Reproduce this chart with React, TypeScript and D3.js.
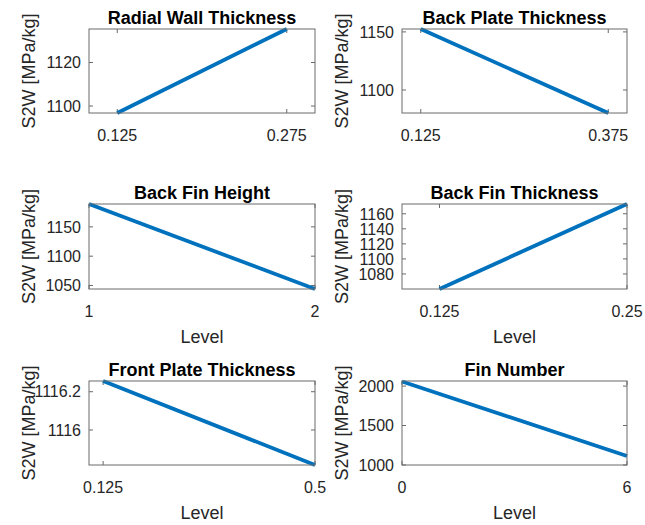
import React from 'react';
import * as d3 from 'd3';

// panel data
const titles = [
  'Radial Wall Thickness',
  'Back Plate Thickness',
  'Back Fin Height',
  'Back Fin Thickness',
  'Front Plate Thickness',
  'Fin Number',
];
const levels = [
  [0.125, 0.275],
  [0.125, 0.375],
  [1, 2],
  [0.125, 0.25],
  [0.125, 0.5],
  [0, 6],
];
const s2w = [
  [1096.8, 1135.4],
  [1152.5, 1080.2],
  [1189, 1044],
  [1060, 1173],
  [1116.256, 1115.817],
  [2058, 1114],
];
const xLimits = [
  [0.1, 0.3],
  [0.1, 0.4],
  [1, 2],
  [0.1, 0.25],
  [0.1, 0.5],
  [0, 6],
];
const yLimits = [
  [1096.8, 1135.4],
  [1080.2, 1152.5],
  [1044, 1189],
  [1060, 1173],
  [1115.817, 1116.256],
  [1000, 2064],
];
const yTicks = [
  [1100, 1120],
  [1100, 1150],
  [1050, 1100, 1150],
  [1080, 1100, 1120, 1140, 1160],
  [1116, 1116.2],
  [1000, 1500, 2000],
];
const showLevel = [false, false, true, true, true, true];

const W = 645;
const H = 525;
const colX = [[89, 315], [402, 627]];
const rowY = [[29, 113], [204, 289], [381, 465]];

const FONT = '"Liberation Sans", Arial, sans-serif';
const AXIS = '#262626';
const BOX = '#6a6a6a';
const LINE = '#0072BD';

const Panel = ({ i }: { i: number }) => {
  const [x0, x1] = colX[i % 2];
  const [y0, y1] = rowY[Math.floor(i / 2)];
  const x = d3.scaleLinear().domain(xLimits[i]).range([x0, x1]);
  const y = d3.scaleLinear().domain(yLimits[i]).range([y1, y0]);
  const pts = levels[i].map((l, k) => [l, s2w[i][k]] as [number, number]);
  const line = d3.line<[number, number]>().x(d => x(d[0])).y(d => y(d[1]));
  const tl = 4;

  return (
    <g>
      {/* ticks, mirrored inside the box */}
      {levels[i].map(t => (
        <g key={'x' + t}>
          <line x1={x(t)} x2={x(t)} y1={y1} y2={y1 - tl} stroke={BOX} strokeWidth={1} />
          <line x1={x(t)} x2={x(t)} y1={y0} y2={y0 + tl} stroke={BOX} strokeWidth={1} />
          <text x={x(t)} y={y1 + 28} textAnchor="middle" fontSize={16} fill={AXIS}>
            {String(t)}
          </text>
        </g>
      ))}
      {yTicks[i].map(t => (
        <g key={'y' + t}>
          <line x1={x0} x2={x0 + tl} y1={y(t)} y2={y(t)} stroke={BOX} strokeWidth={1} />
          <line x1={x1} x2={x1 - tl} y1={y(t)} y2={y(t)} stroke={BOX} strokeWidth={1} />
          <text x={x0 - 8} y={y(t)} dy="0.36em" textAnchor="end" fontSize={16} fill={AXIS}>
            {String(t)}
          </text>
        </g>
      ))}
      <path d={line(pts) || ''} fill="none" stroke={LINE} strokeWidth={3.8} />
      <rect x={x0} y={y0} width={x1 - x0} height={y1 - y0} fill="none" stroke={BOX} strokeWidth={1} />
      <text x={(x0 + x1) / 2} y={y0 - 5} textAnchor="middle" fontSize={18} fontWeight="bold" fill="#000">
        {titles[i]}
      </text>
      <text
        transform={`translate(${x0 - 54},${(y0 + y1) / 2}) rotate(-90)`}
        textAnchor="middle"
        fontSize={18}
        fill={AXIS}
      >
        S2W [MPa/kg]
      </text>
      {showLevel[i] && (
        <text x={(x0 + x1) / 2} y={y1 + 54} textAnchor="middle" fontSize={18} fill={AXIS}>
          Level
        </text>
      )}
    </g>
  );
};

export default function App() {
  return (
    <svg
      width={W}
      height={H}
      style={{ position: 'absolute', left: 0, top: 0, background: '#fff' }}
      fontFamily={FONT}
    >
      {titles.map((_, i) => (
        <Panel key={i} i={i} />
      ))}
    </svg>
  );
}
